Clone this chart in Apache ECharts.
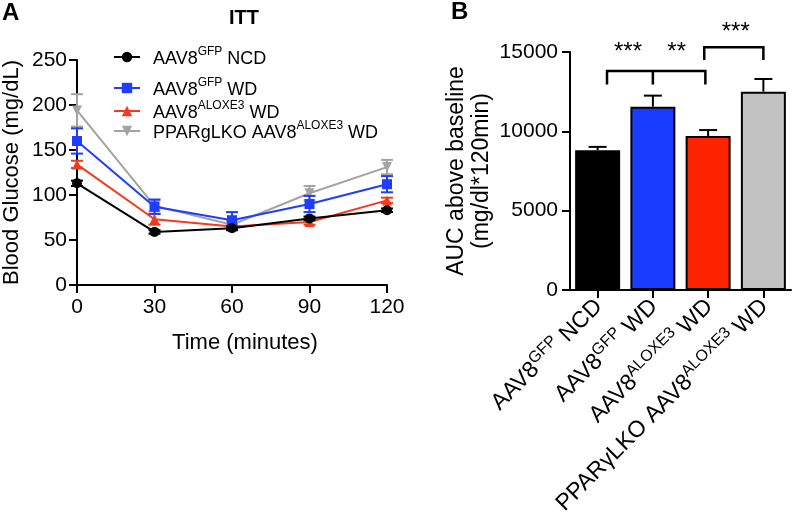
<!DOCTYPE html>
<html><head><meta charset="utf-8">
<script src="https://cdn.jsdelivr.net/npm/echarts@6/dist/echarts.min.js"></script>
<style>html,body{margin:0;padding:0;background:#fff}#c{width:793px;height:526px}</style>
</head><body><div id="c"></div>
<script>
// ---- Panel A data (ITT) ----
const times = [0, 30, 60, 90, 120];
const seriesNames = ['AAV8GFP NCD', 'AAV8GFP WD', 'AAV8ALOXE3 WD', 'PPARgLKO AAV8ALOXE3 WD'];
const ncd = [113, 59, 63, 74, 83];
const ncdErr = [3, 2, 2, 2, 2];
const gfpWd = [160, 87, 72, 90, 112];
const gfpWdErr = [14, 8, 9, 9, 9];
const aloxWd = [134, 73, 65, 70, 94];
const aloxWdErr = [4, 6, 3, 3, 3];
const pparWd = [194, 88, 67, 102, 131];
const pparWdErr = [18, 6, 4, 8, 8];
const yTicksA = [0, 50, 100, 150, 200, 250];
const xTicksA = [0, 30, 60, 90, 120];

// ---- Panel B data (AUC) ----
const categories = ['AAV8GFP NCD', 'AAV8GFP WD', 'AAV8ALOXE3 WD', 'PPARγLKO AAV8ALOXE3 WD'];
const auc = [8800, 11550, 9700, 12500];
const aucErr = [220, 700, 380, 800];
const yTicksB = [0, 5000, 10000, 15000];
const brackets = [
  {from: 0.17, to: 1.95, mid: 1, top: 13800, leg: 12950},
  {from: 1.93, to: 3, mid: null, top: 15300, leg: 14500}
];
const stars = [
  {pos: 0.55, y: 14950, text: '***'},
  {pos: 1.43, y: 14950, text: '**'},
  {pos: 2.5, y: 16250, text: '***'}
];

const FONT = 'Liberation Sans, Arial, Helvetica, sans-serif';
const colors = ['#000000', '#1f3cff', '#f5391c', '#a3a3a3'];
const barColors = ['#000000', '#1a3cff', '#ff2400', '#c2c2c2'];

function sup(name) {
  return name.replace(/(GFP|ALOXE3)/, '\u0000$1\u0000').split('\u0000')
    .map((s, i) => s ? (i % 2 ? '{s|' + s + '}' : '{n|' + s + '}') : '').join('');
}
const richA = {
  n: {fontSize: 18, fontFamily: FONT, color: '#000', lineHeight: 22, verticalAlign: 'bottom'},
  s: {fontSize: 12, fontFamily: FONT, color: '#000', lineHeight: 22, verticalAlign: 'top'}
};

function errRender(params, api) {
  const x = api.value(0), m = api.value(1), e = api.value(2);
  const t = api.coord([x, m + e]), b = api.coord([x, m - e]);
  const c = api.visual('color'), hw = 6;
  const st = {stroke: c, lineWidth: 2};
  return {type: 'group', children: [
    {type: 'line', shape: {x1: t[0], y1: t[1], x2: b[0], y2: b[1]}, style: st},
    {type: 'line', shape: {x1: t[0] - hw, y1: t[1], x2: t[0] + hw, y2: t[1]}, style: st},
    {type: 'line', shape: {x1: b[0] - hw, y1: b[1], x2: b[0] + hw, y2: b[1]}, style: st}
  ]};
}
function barErrRender(params, api) {
  const x = api.value(0), m = api.value(1), e = api.value(2);
  const t = api.coord([x, m + e]), b = api.coord([x, m]);
  const hw = 9, st = {stroke: '#000', lineWidth: 2};
  return {type: 'group', children: [
    {type: 'line', shape: {x1: t[0], y1: t[1], x2: b[0], y2: b[1]}, style: st},
    {type: 'line', shape: {x1: t[0] - hw, y1: t[1], x2: t[0] + hw, y2: t[1]}, style: st}
  ]};
}
function px(api, pos, y) {
  const i = Math.floor(pos), f = pos - i;
  const a = api.coord([i, y]);
  if (f === 0) return a;
  const b = api.coord([i + 1, y]);
  return [a[0] + (b[0] - a[0]) * f, a[1]];
}
function annotRender(params, api) {
  if (params.dataIndex !== 0) return null;
  const ch = [], st = {stroke: '#000', lineWidth: 2.5, fill: null};
  brackets.forEach(br => {
    const l = px(api, br.from, br.top), r = px(api, br.to, br.top);
    const lb = px(api, br.from, br.leg), rb = px(api, br.to, br.leg);
    ch.push({type: 'polyline', shape: {points: [lb, l, r, rb]}, style: st});
    if (br.mid !== null) {
      const m = px(api, br.mid, br.top), mb = px(api, br.mid, br.leg);
      ch.push({type: 'line', shape: {x1: m[0], y1: m[1], x2: mb[0], y2: mb[1]}, style: st});
    }
  });
  stars.forEach(s => {
    const p = px(api, s.pos, s.y);
    ch.push({type: 'text', x: p[0], y: p[1], style: {text: s.text, fontSize: 24, fontFamily: FONT,
      fill: '#000', align: 'center', verticalAlign: 'middle'}});
  });
  return {type: 'group', children: ch};
}

const lineData = [ncd, gfpWd, aloxWd, pparWd];
const errData = [ncdErr, gfpWdErr, aloxWdErr, pparWdErr];
const symbols = ['circle', 'rect', 'triangle', 'triangle'];
const rotates = [0, 0, 0, 180];
const legendTops = [41, 72, 95, 115];

const series = [];
// draw order: gray, red, blue, black
[3, 2, 1, 0].forEach(k => {
  series.push({
    type: 'line', name: seriesNames[k], xAxisIndex: 0, yAxisIndex: 0,
    data: times.map((t, i) => [t, lineData[k][i]]),
    symbol: symbols[k], symbolRotate: rotates[k], symbolSize: 10,
    lineStyle: {color: colors[k], width: 2}, itemStyle: {color: colors[k]},
    z: 3 + (3 - k)
  });
  series.push({
    type: 'custom', xAxisIndex: 0, yAxisIndex: 0,
    renderItem: errRender, itemStyle: {color: colors[k]},
    data: times.map((t, i) => [t, lineData[k][i], errData[k][i]]), z: 2 + (3 - k)
  });
});
series.push({
  type: 'bar', xAxisIndex: 1, yAxisIndex: 1, barWidth: 45,
  data: auc.map((v, i) => ({value: v, itemStyle: {color: barColors[i]}})),
  itemStyle: {borderColor: '#000', borderWidth: 2}, z: 3
});
series.push({
  type: 'custom', xAxisIndex: 1, yAxisIndex: 1, renderItem: barErrRender,
  data: auc.map((v, i) => [i, v, aucErr[i]]), z: 2
});
series.push({
  type: 'custom', xAxisIndex: 1, yAxisIndex: 1, renderItem: annotRender,
  data: [[0, 0]], clip: false, z: 4
});

const axisCommon = {
  axisLine: {show: true, lineStyle: {color: '#000', width: 2}},
  axisTick: {show: true, length: 8, lineStyle: {color: '#000', width: 2}},
  splitLine: {show: false}
};

const option = {
  animation: false,
  backgroundColor: '#fff',
  textStyle: {fontFamily: FONT},
  legend: seriesNames.map((nm, k) => ({
    data: [nm],
    left: 108, top: legendTops[k], itemWidth: 26, itemHeight: 13, selectedMode: false,
    formatter: n => sup(n),
    textStyle: {rich: richA, padding: [0, 0, 0, 8]}
  })),
  grid: [
    {left: 77, top: 60, width: 310, height: 225},
    {left: 570, top: 52, width: 221, height: 238}
  ],
  xAxis: [
    Object.assign({}, axisCommon, {
      type: 'value', gridIndex: 0, min: 0, max: 120, interval: 30,
      axisLabel: {fontSize: 21, color: '#000', fontFamily: FONT, margin: 12},
      name: 'Time (minutes)', nameLocation: 'middle', nameGap: 47,
      nameTextStyle: {fontSize: 22, color: '#000', fontFamily: FONT, padding: [0, 0, 0, 26]}
    }),
    Object.assign({}, axisCommon, {
      type: 'category', gridIndex: 1, data: categories,
      axisTick: {show: true, alignWithLabel: true, length: 8, lineStyle: {color: '#000', width: 2}},
      axisLabel: {rotate: 45, interval: 0, margin: 12, formatter: v => sup(v),
        rich: {
          n: {fontSize: 23, fontFamily: FONT, color: '#000', lineHeight: 26, verticalAlign: 'bottom'},
          s: {fontSize: 16, fontFamily: FONT, color: '#000', lineHeight: 26, verticalAlign: 'top'}
        }}
    })
  ],
  yAxis: [
    Object.assign({}, axisCommon, {
      type: 'value', gridIndex: 0, min: 0, max: 250, interval: 50,
      axisLabel: {fontSize: 21, color: '#000', fontFamily: FONT, margin: 10},
      name: 'Blood Glucose (mg/dL)', nameLocation: 'middle', nameGap: 54,
      nameTextStyle: {fontSize: 22, color: '#000', fontFamily: FONT}
    }),
    Object.assign({}, axisCommon, {
      type: 'value', gridIndex: 1, min: 0, max: 15000, interval: 5000,
      axisLabel: {fontSize: 21, color: '#000', fontFamily: FONT, margin: 12, formatter: v => String(v)},
      name: 'AUC above baseline\n(mg/dl*120min)', nameLocation: 'middle', nameGap: 76,
      nameTextStyle: {fontSize: 23, color: '#000', fontFamily: FONT, lineHeight: 25}
    })
  ],
  graphic: [
    {type: 'text', left: 2, top: 1, style: {text: 'A', fontSize: 24, fontWeight: 'bold', fontFamily: FONT, fill: '#000'}},
    {type: 'text', left: 451, top: 0, style: {text: 'B', fontSize: 24, fontWeight: 'bold', fontFamily: FONT, fill: '#000'}},
    {type: 'text', left: 229, top: 8, style: {text: 'ITT', fontSize: 20, fontWeight: 'bold', fontFamily: FONT, fill: '#000'}}
  ],
  series: series
};
const chart = echarts.init(document.getElementById('c'), null, {renderer: 'canvas'});
chart.setOption(option);
</script></body></html>
